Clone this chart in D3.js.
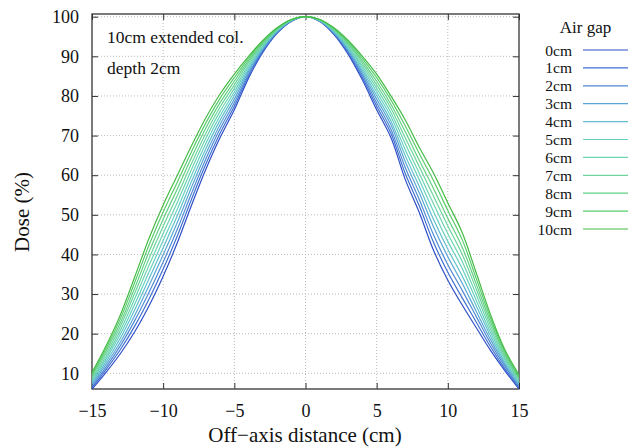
<!DOCTYPE html>
<html><head><meta charset="utf-8">
<script src="https://cdn.jsdelivr.net/npm/d3@7"></script>
<style>body{margin:0;background:#fff}svg{display:block}text{font-family:"Liberation Serif","Times New Roman",serif;fill:#111}</style>
</head><body><svg id="c" width="630" height="447"></svg>
<script>
const xs = [-15,-14,-13,-12,-11,-10,-9,-8,-7,-6,-5,-4,-3,-2,-1,0,1,2,3,4,5,6,7,8,9,10,11,12,13,14,15];
const gap0  = [6.0,10.3,15.0,20.5,27.0,34.5,43.0,52.5,61.5,69.5,76.5,84.5,91.0,95.8,98.8,100,98.8,95.5,90.5,84.0,76.5,69.5,59.0,50.5,41.0,33.5,27.3,21.5,15.8,10.7,6.0];
const gap1  = [6.4,11.0,16.0,21.9,28.7,36.3,44.7,54.0,62.8,70.6,77.4,85.1,91.3,95.9,98.9,100,98.9,95.7,90.9,84.6,77.4,70.6,60.5,52.2,43.0,35.5,29.1,22.9,16.7,11.2,6.4];
const gap2  = [6.8,11.6,17.0,23.3,30.4,38.1,46.4,55.5,64.1,71.7,78.3,85.6,91.6,96.1,98.9,100,98.9,95.8,91.2,85.2,78.3,71.6,62.0,53.8,44.9,37.4,31.0,24.3,17.6,11.8,6.7];
const gap3  = [7.3,12.3,17.9,24.6,32.1,39.9,48.1,57.0,65.4,72.8,79.2,86.2,91.9,96.2,99.0,100,99.0,96.0,91.6,85.8,79.2,72.7,63.5,55.5,46.9,39.4,32.8,25.6,18.5,12.3,7.1];
const gap4  = [7.7,13.0,18.9,26.0,33.8,41.7,49.8,58.5,66.7,73.9,80.1,86.7,92.2,96.4,99.0,100,99.0,96.2,91.9,86.4,80.1,73.7,65.0,57.1,48.8,41.3,34.6,27.0,19.4,12.8,7.4];
const gap5  = [8.1,13.7,19.9,27.4,35.5,43.5,51.5,60.0,68.0,75.0,81.0,87.3,92.5,96.5,99.1,100,99.1,96.4,92.3,87.0,81.0,74.8,66.5,58.8,50.8,43.3,36.5,28.4,20.3,13.4,7.8];
const gap6  = [8.5,14.3,20.9,28.8,37.2,45.3,53.2,61.5,69.3,76.1,81.9,87.8,92.8,96.6,99.1,100,99.1,96.5,92.6,87.6,81.9,75.8,68.0,60.4,52.7,45.2,38.3,29.8,21.2,13.9,8.2];
const gap7  = [8.9,15.0,21.9,30.2,38.9,47.1,54.9,63.0,70.6,77.2,82.8,88.4,93.1,96.8,99.2,100,99.2,96.7,93.0,88.2,82.8,76.9,69.5,62.1,54.7,47.2,40.1,31.2,22.1,14.4,8.5];
const gap8  = [9.4,15.7,22.8,31.5,40.6,48.9,56.6,64.5,71.9,78.3,83.7,88.9,93.4,96.9,99.2,100,99.2,96.9,93.3,88.8,83.7,77.9,71.0,63.7,56.6,49.1,41.9,32.5,23.0,14.9,8.9];
const gap9  = [9.8,16.3,23.8,32.9,42.3,50.7,58.3,66.0,73.2,79.4,84.6,89.5,93.7,97.1,99.3,100,99.3,97.0,93.7,89.4,84.6,79.0,72.5,65.4,58.6,51.1,43.8,33.9,23.9,15.5,9.2];
const gap10 = [10.2,17.0,24.8,34.3,44.0,52.5,60.0,67.5,74.5,80.5,85.5,90.0,94.0,97.2,99.3,100,99.3,97.2,94.0,90.0,85.5,80.0,74.0,67.0,60.5,53.0,45.6,35.3,24.8,16.0,9.6];
const seriesNames = ["0cm","1cm","2cm","3cm","4cm","5cm","6cm","7cm","8cm","9cm","10cm"];
const seriesValues = [gap0,gap1,gap2,gap3,gap4,gap5,gap6,gap7,gap8,gap9,gap10];
const colors = ["#2f4fc8","#3f6fd0","#4f8ad4","#5aa6d4","#5fc0cc","#66cfc0","#6cd4b0","#6cd49c","#62d084","#58cc6c","#44bb44"];
const xTicks = [-15,-10,-5,0,5,10,15];
const yTicks = [10,20,30,40,50,60,70,80,90,100];
const xTickLabels = ["\u221215","\u221210","\u22125","0","5","10","15"];

const svg = d3.select("#c");
const L=92,R=519,T=14,B=389;
const x = d3.scaleLinear().domain([-15,15]).range([L,R]);
const y = d3.scaleLinear().domain([6.04,100.68]).range([B,T]);

const g = svg.append("g");
g.selectAll("line.gx").data(xTicks.slice(1,-1)).enter().append("line")
 .attr("x1",d=>x(d)).attr("x2",d=>x(d)).attr("y1",T).attr("y2",B)
 .attr("stroke","#bbb").attr("stroke-width",1).attr("stroke-dasharray","1,2");
g.selectAll("line.gy").data(yTicks).enter().append("line")
 .attr("y1",d=>y(d)).attr("y2",d=>y(d)).attr("x1",L).attr("x2",R)
 .attr("stroke","#bbb").attr("stroke-width",1).attr("stroke-dasharray","1,2");

const ax = svg.append("g").attr("transform",`translate(0,${B})`)
 .call(d3.axisBottom(x).tickValues(xTicks).tickSize(-6).tickPadding(15).tickFormat((d,i)=>xTickLabels[i]));
const axT = svg.append("g").attr("transform",`translate(0,${T})`)
 .call(d3.axisTop(x).tickValues(xTicks).tickSize(-6).tickFormat(""));
const ay = svg.append("g").attr("transform",`translate(${L},0)`)
 .call(d3.axisLeft(y).tickValues(yTicks).tickSize(-6).tickPadding(13));
const ayR = svg.append("g").attr("transform",`translate(${R},0)`)
 .call(d3.axisRight(y).tickValues(yTicks).tickSize(-6).tickFormat(""));
[ax,axT,ay,ayR].forEach(a=>{a.select(".domain").remove();
 a.selectAll(".tick line").attr("stroke","#333").attr("stroke-width",1);
 a.selectAll("text").style("font-family","Liberation Serif, serif").style("font-size","18px").attr("fill","#111");});
svg.append("rect").attr("x",L).attr("y",T).attr("width",R-L).attr("height",B-T)
 .attr("fill","none").attr("stroke","#333").attr("stroke-width",1.3);

svg.append("clipPath").attr("id","pc").append("rect").attr("x",L).attr("y",T).attr("width",R-L).attr("height",B-T);
const line = d3.line().x((d,i)=>x(xs[i])).y(d=>y(d)).curve(d3.curveCatmullRom.alpha(0.5));
svg.append("g").attr("clip-path","url(#pc)").selectAll("path").data(seriesValues).enter().append("path")
 .attr("d",d=>line(d)).attr("fill","none").attr("stroke",(d,i)=>colors[i]).attr("stroke-width",1.2);

svg.append("text").attr("x",107).attr("y",43).style("font-size","17.5px").text("10cm extended col.");
svg.append("text").attr("x",107).attr("y",74).style("font-size","17.5px").text("depth 2cm");

svg.append("text").attr("x",585.5).attr("y",33).attr("text-anchor","middle").style("font-size","17px").text("Air gap");
const lg = svg.append("g").selectAll("g").data(seriesNames).enter().append("g")
 .attr("transform",(d,i)=>`translate(0,${50+i*17.9})`);
lg.append("text").attr("x",572).attr("y",5.5).attr("text-anchor","end").style("font-size","15.5px").text(d=>d);
lg.append("line").attr("x1",583).attr("x2",628).attr("y1",0).attr("y2",0).attr("stroke",(d,i)=>colors[i]).attr("stroke-width",1.2);

svg.append("text").attr("x",305).attr("y",442).attr("text-anchor","middle").style("font-size","21px").text("Off\u2212axis distance (cm)");
svg.append("text").attr("transform","translate(29,212) rotate(-90)").attr("text-anchor","middle").style("font-size","21px").text("Dose (%)");
</script></body></html>
